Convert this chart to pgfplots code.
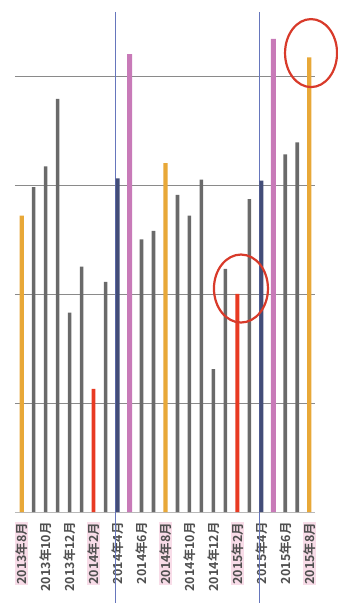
\documentclass[border=0pt]{standalone}
\usepackage{pgfplots}
\pgfplotsset{compat=1.18}
\usepackage{fontspec}
\setmainfont{Noto Sans CJK JP}[BoldFont={Noto Sans CJK JP Bold}]
\definecolor{cgrey}{HTML}{6A6A6A}
\definecolor{corange}{HTML}{E8A838}
\definecolor{cred}{HTML}{E83A22}
\definecolor{cpink}{HTML}{C87AB8}
\definecolor{cblue}{HTML}{434D78}
\definecolor{cgrid}{HTML}{8A8A8A}
\definecolor{cvline}{HTML}{6676BC}
\definecolor{hlpink}{HTML}{F8DCE8}
\definecolor{ctext}{HTML}{505050}
\definecolor{ccircle}{HTML}{D83A2A}
\newcommand{\hl}[1]{{\setlength{\fboxsep}{0.5bp}\colorbox{hlpink}{#1}}}
\begin{document}
\begin{tikzpicture}
\path[use as bounding box] (-15bp,-91bp) rectangle (323bp,512bp);
\begin{axis}[
  at={(0,0)}, anchor=south west,
  scale only axis, width=300bp, height=500bp,
  xmin=-0.56, xmax=24.48, ymin=0, ymax=4.587,
  axis line style={draw=none},
  major tick length=0pt,
  ytick={1,2,3,4}, yticklabels={},
  ymajorgrids, grid style={cgrid, line width=0.7bp},
  xtick={0,2,...,24},
  xticklabels={\hl{2013年8月},2013年10月,2013年12月,\hl{2014年2月},2014年4月,2014年6月,\hl{2014年8月},2014年10月,2014年12月,\hl{2015年2月},2015年4月,2015年6月,\hl{2015年8月}},
  xticklabel style={rotate=90, anchor=east, font=\fontsize{12.5bp}{13bp}\selectfont\bfseries, text=ctext, inner sep=1bp},
  xticklabel shift=9bp,
  clip=false,
  ybar, bar width=3.6bp, bar shift=0pt,
]
\draw[cgrid!60, line width=0.7bp] (axis cs:-0.56,0) -- (axis cs:24.48,0);
\draw[cvline, line width=0.8bp] (axis cs:7.85,4.587) -- ([yshift=-91bp]axis cs:7.85,0);
\draw[cvline, line width=0.8bp] (axis cs:19.85,4.587) -- ([yshift=-91bp]axis cs:19.85,0);
\addplot[fill=cgrey, draw=none] coordinates {(1,2.98)(2,3.17)(3,3.79)(4,1.83)(5,2.25)(7,2.11)(10,2.50)(11,2.58)(13,2.91)(14,2.72)(15,3.05)(16,1.31)(17,2.23)(19,2.87)(22,3.28)(23,3.39)};
\addplot[fill=corange, draw=none, bar width=4.4bp] coordinates {(0,2.72)(12,3.20)(24,4.17)};
\addplot[fill=cred, draw=none, bar width=3.8bp] coordinates {(6,1.13)(18,2.00)};
\addplot[fill=cpink, draw=none, bar width=5bp] coordinates {(9,4.20)(21,4.34)};
\addplot[fill=cblue, draw=none, bar width=4bp] coordinates {(8,3.06)(20,3.04)};
\draw[ccircle, line width=2.2bp] (axis cs:24.15,4.21) ellipse [x radius=26bp, y radius=34bp];
\draw[ccircle, line width=2.2bp] (axis cs:18.3,2.05) ellipse [x radius=27bp, y radius=34bp];
\end{axis}
\end{tikzpicture}
\end{document}
